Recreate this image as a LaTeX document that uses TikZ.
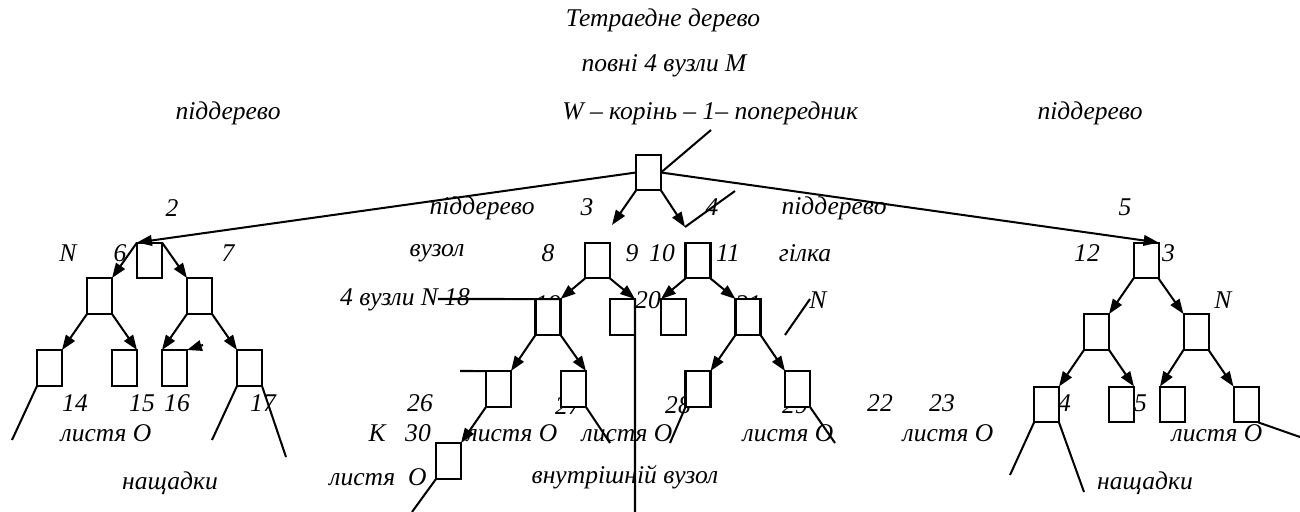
\documentclass[tikz,border=0pt]{standalone}
\usepackage{fontspec}
\setmainfont{Liberation Serif}
\usetikzlibrary{arrows.meta}
\begin{document}
\begin{tikzpicture}[x=0.47pt,y=-0.47pt,
  lbl/.style={inner sep=0pt, font=\fontsize{12}{14}\selectfont\itshape},
  box/.style={draw, fill=white, line width=0.95pt, minimum width=11.75pt, minimum height=16.9pt, inner sep=0pt, outer sep=0pt},
  ln/.style={line width=0.95pt},
  arr/.style={line width=0.95pt, -{Triangle[length=7pt,width=5pt]}}]
\useasboundingbox (0,0) rectangle (1300,512);

% ---------- labels ----------
\node[lbl] (t1) at (663,20) {Тетраедне дерево};
\node[lbl] (t2) at (664,66) {повні 4 вузли М};
\node[lbl] (t3) at (228,113) {піддерево};
\node[lbl,anchor=west] (t4) at (562,113) {W – корінь – 1– попередник};
\node[lbl] (t5) at (1090,113) {піддерево};

\node[lbl] (l2) at (172,208) {2};
\node[lbl] (lp1) at (482,208) {піддерево};
\node[lbl] (l3) at (587,207) {3};
\node[lbl] (l4) at (712,207) {4};
\node[lbl] (lp2) at (834,208) {піддерево};
\node[lbl] (l5) at (1125,207) {5};

\node[lbl] (lN1) at (68,253) {N};
\node[lbl] (l6) at (120,253) {6};
\node[lbl] (l7) at (228,253) {7};
\node[lbl] (lvz) at (437,253) {вузол};
\node[lbl] (l8) at (548,253) {8};
\node[lbl] (l9) at (632,253) {9};
\node[lbl] (l10) at (662,253) {10};
\node[lbl] (l11) at (728,253) {11};
\node[lbl] (lgl) at (805,253) {гілка};
\node[lbl] (l12) at (1087,253) {12};
\node[lbl] (l13) at (1162,253) {13};

\node[lbl] (l18) at (405,300) {4 вузли N 18};
\node[lbl] (l19) at (548,304) {19};
\node[lbl] (l20) at (648,300) {20};
\node[lbl] (l21) at (748,304) {21};
\node[lbl] (lN2) at (818,300) {N};
\node[lbl] (lN3) at (1223,300) {N};

\node[lbl] (l14) at (75,403) {14};
\node[lbl] (l15) at (142,403) {15};
\node[lbl] (l16) at (177,403) {16};
\node[lbl] (l17) at (263,403) {17};
\node[lbl] (l26) at (420,403) {26};
\node[lbl] (l27) at (568,406) {27};
\node[lbl] (l28) at (678,405) {28};
\node[lbl] (l29) at (795,405) {29};
\node[lbl] (l22) at (880,403) {22};
\node[lbl] (l23) at (942,403) {23};
\node[lbl] (l24) at (1058,403) {24};
\node[lbl] (l25) at (1134,403) {25};

\node[lbl] (o1) at (106,433) {листя О};
\node[lbl] (lK) at (377,433) {К};
\node[lbl] (l30) at (418,433) {30};
\node[lbl] (o2) at (512,433) {листя О};
\node[lbl] (o3) at (627,433) {листя О};
\node[lbl] (o4) at (788,433) {листя О};
\node[lbl] (o5) at (948,433) {листя О};
\node[lbl] (o6) at (1217,433) {листя О};

\node[lbl] (n1) at (170,483) {нащадки};
\node[lbl] (o7) at (378,477) {листя\ \ О};
\node[lbl] (vv) at (625,477) {внутрішній вузол};
\node[lbl] (n2) at (1145,483) {нащадки};

% ---------- boxes ----------
\node[box] (root) at (648.5,172.5) {};
\node[box] (bA) at (149.5,260.5) {};
\node[box] (bB) at (597.5,260.5) {};
\node[box] (bC) at (698,260.5) {};
\node[box] (bD) at (1146,260.5) {};

\node[box] (bA1) at (99.5,296) {};
\node[box] (bA2) at (199.5,296) {};
\node[box] (bA11) at (49.5,368) {};
\node[box] (bA12) at (124.5,368) {};
\node[box] (bA21) at (174.5,368) {};
\node[box] (bA22) at (249.5,368) {};

\node[box] (b19) at (548,317) {};
\node[box] (b20) at (622.5,317) {};
\node[box] (b26) at (498.5,389) {};
\node[box] (b27) at (573.5,389) {};
\node[box] (b30) at (448.5,461) {};

\node[box] (b20r) at (673.5,317) {};
\node[box] (b21) at (748,317) {};
\node[box] (b28) at (698,389) {};
\node[box] (b29) at (797.5,389) {};

\node[box] (bD1) at (1096.5,332) {};
\node[box] (bD2) at (1196,332) {};
\node[box] (b24) at (1046.5,404.5) {};
\node[box] (b25) at (1121.5,404.5) {};
\node[box] (bD21) at (1172.5,404.5) {};
\node[box] (bD22) at (1246,404.5) {};

% ---------- free ends ----------
\coordinate (pre) at (711,130);
\coordinate (c3) at (612,225);
\coordinate (c4) at (685,227);
\coordinate (c4b) at (735,191);
\coordinate (sa) at (203,345);
\coordinate (e14) at (12,440);
\coordinate (e17a) at (212,440);
\coordinate (e17b) at (286,457);
\coordinate (e18) at (438,299);
\coordinate (e20) at (635,512);
\coordinate (e26) at (460,371);
\coordinate (e27) at (610,443);
\coordinate (e30) at (412,512);
\coordinate (nA) at (785,335);
\coordinate (nB) at (810,299);
\coordinate (e28) at (670,443);
\coordinate (e29) at (835,443);
\coordinate (e24a) at (1010,475);
\coordinate (e24b) at (1084,492);
\coordinate (eR) at (1300,437);

% ---------- connectors ----------
\draw[arr] (root.west) -- (bA.north west);
\draw[arr] (root.east) -- (bD.north east);
\draw[ln] (root.east) -- (pre);
\draw[arr] (root.south west) -- (c3);
\draw[arr] (root.south east) -- (c4);
\draw[ln] (c4) -- (c4b);

\draw[arr] (bA.north west) -- (bA1.north east);
\draw[arr] (bA.north east) -- (bA2.north west);
\draw[arr] (bA1.south west) -- (bA11.north east);
\draw[arr] (bA1.south east) -- (bA12.north east);
\draw[arr] (bA2.south west) -- (bA21.north west);
\draw[arr] (bA2.south east) -- (bA22.north west);
\draw[arr] (sa) -- (bA21.north east);
\draw[ln] (bA11.south west) -- (e14);
\draw[ln] (bA22.south west) -- (e17a);
\draw[ln] (bA22.south east) -- (e17b);

\draw[arr] (bB.south west) -- (b19.north east);
\draw[arr] (bB.south east) -- (b20.north east);
\draw[ln] (e18) -- (b19.north east);
\draw[ln] (b20.north east) -- (e20);
\draw[arr] (b19.south west) -- (b26.north east);
\draw[arr] (b19.south east) -- (b27.north east);
\draw[ln] (e26) -- (b26.north west);
\draw[arr] (b26.south west) -- (b30.north east);
\draw[ln] (b27.south east) -- (e27);
\draw[ln] (b30.south west) -- (e30);

\draw[arr] (bC.south west) -- (b20r.north west);
\draw[arr] (bC.south east) -- (b21.north west);
\draw[ln] (nA) -- (nB);
\draw[arr] (b21.south west) -- (b28.north east);
\draw[arr] (b21.south east) -- (b29.north west);
\draw[ln] (b28.south west) -- (e28);
\draw[ln] (b29.south east) -- (e29);

\draw[arr] (bD.south west) -- (bD1.north east);
\draw[arr] (bD.south east) -- (bD2.north west);
\draw[arr] (bD1.south west) -- (b24.north east);
\draw[arr] (bD1.south east) -- (b25.north east);
\draw[arr] (bD2.south west) -- (bD21.north west);
\draw[arr] (bD2.south east) -- (bD22.north west);
\draw[ln] (b24.south west) -- (e24a);
\draw[ln] (b24.south east) -- (e24b);
\draw[ln] (bD22.south east) -- (eR);
\end{tikzpicture}
\end{document}
